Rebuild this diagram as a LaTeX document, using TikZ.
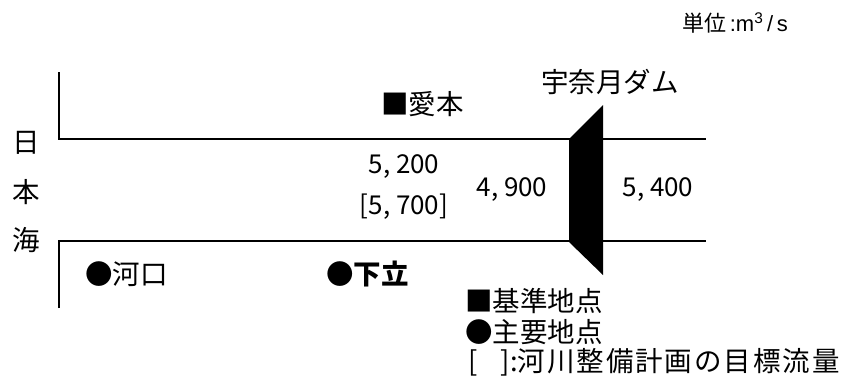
\documentclass[tikz,border=0pt]{standalone}
\usepackage{fontspec}
\setmainfont{Noto Sans CJK JP}
\newfontfamily\latinsans{Liberation Sans}
\begin{document}
\begin{tikzpicture}[x=1pt,y=-1pt,
  lbl/.style={inner sep=0pt, font=\fontsize{27.5}{32}\selectfont},
  num/.style={inner sep=0pt, font=\fontsize{26}{30}\selectfont},
  small/.style={inner sep=0pt, font=\fontsize{22}{26}\selectfont},
  bank/.style={line width=1.5pt}]
\useasboundingbox (0,0) rectangle (846,389);
% banks
\coordinate (ut) at (59,72);
\coordinate (ul) at (59,139);
\coordinate (ur) at (706,139);
\coordinate (lb) at (59,308);
\coordinate (ll) at (59,241);
\coordinate (lr) at (706,241);
\draw[bank] (ut) -- (ul) -- (ur);
\draw[bank] (lb) -- (ll) -- (lr);
% dam
\fill (603,105) -- (569,139) -- (569,242) -- (603,275) -- cycle;
% labels
\node[small, anchor=east] (unit) at (788,23) {単位{\latinsans\,:m\textsuperscript{3}\,/\,s}};
\node[lbl] (n1) at (26,143) {日};
\node[lbl] (n2) at (26,192) {本};
\node[lbl] (n3) at (26,240) {海};
\node[lbl, anchor=west] (aimoto) at (381,104) {■愛本};
\node[lbl] (dam) at (610,82) {宇奈月ダム};
\node[num] (q1) at (404,167) {5, 200};
\node[num] (q2) at (404,207) {[5, 700]};
\node[num] (q3) at (512,190) {4, 900};
\node[num] (q4) at (658,190) {5, 400};
\node[lbl, anchor=west] (kawaguchi) at (85,274) {●河口};
\node[lbl, anchor=west] (shimodachi) at (326,274) {●\textbf{下立}};
\node[lbl, anchor=west] (leg1) at (465,301) {■基準地点};
\node[lbl, anchor=west] (leg2) at (465,332) {●主要地点};
\node[lbl, anchor=west] (leg3) at (468,362) {[\hspace{0.85em}]:{\addfontfeature{LetterSpace=7}河川整備計画の目標流量}};
\end{tikzpicture}
\end{document}
